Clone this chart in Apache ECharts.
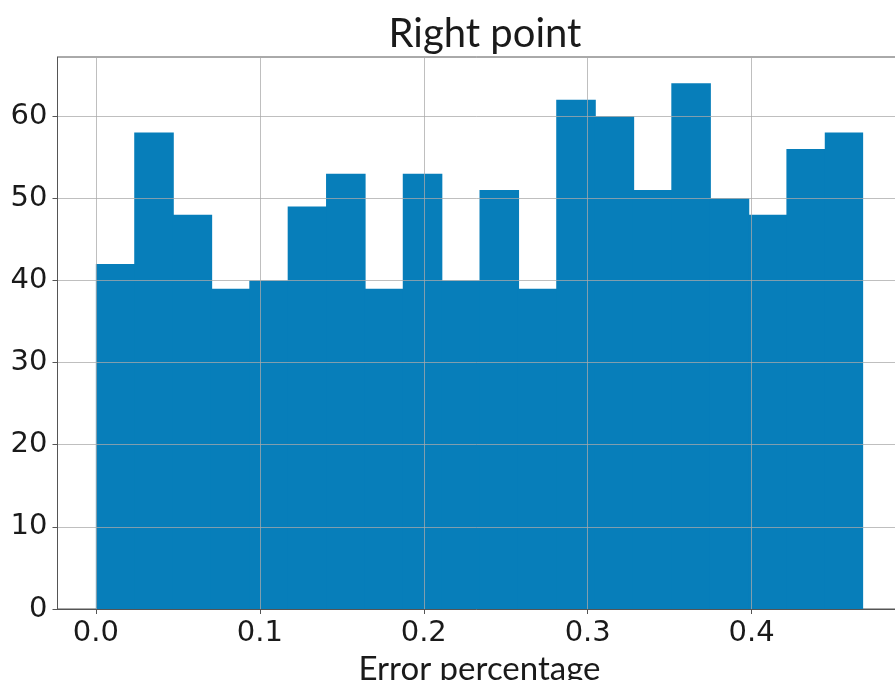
<!DOCTYPE html>
<html>
<head>
<meta charset="utf-8">
<script src="https://cdn.jsdelivr.net/npm/echarts@6/dist/echarts.min.js"></script>
<style>html,body{margin:0;padding:0;background:#fff}#c{width:895px;height:680px}</style>
</head>
<body>
<div id="c"></div>
<script>
const binStart = 0.0;
const binWidth = 0.0234;
const counts = [42, 58, 48, 39, 40, 49, 53, 39, 53, 40, 51, 39, 62, 60, 51, 64, 50, 48, 56, 58];
const xTicks = [0.0, 0.1, 0.2, 0.3, 0.4];
const yTicks = [0, 10, 20, 30, 40, 50, 60];
const titleText = 'Right point';
const xName = 'Error percentage';

const bins = counts.map((c, i) => [binStart + i * binWidth, binStart + (i + 1) * binWidth, c]);
const xEnd = binStart + counts.length * binWidth;
const xMargin = (xEnd - binStart) * 0.05;
const yMax = Math.max(...counts) * 1.05;

const chart = echarts.init(document.getElementById('c'), null, {renderer: 'canvas'});
const gridColor = 'rgba(170,170,170,0.75)';
const fontTitle = 'Lato, "Open Sans", sans-serif';
const fontTick = '"DejaVu Sans", sans-serif';
chart.setOption({
  animation: false,
  backgroundColor: '#fff',
  title: {
    text: titleText, left: 480, top: 9, textAlign: 'center',
    textStyle: {fontFamily: fontTitle, fontSize: 40, fontWeight: 'normal', color: '#1a1a1a'}
  },
  grid: {left: 57.5, top: 57, width: 844, height: 552, outerBoundsMode: 'none', containLabel: false,
    show: true, borderColor: '#555', borderWidth: 1, backgroundColor: 'transparent'},
  xAxis: {
    type: 'value', min: binStart - xMargin, max: xEnd + xMargin, z: 5,
    name: xName, nameLocation: 'middle', nameGap: 38,
    nameTextStyle: {fontFamily: fontTitle, fontSize: 33, color: '#1a1a1a'},
    axisLine: {show: true, onZero: false, lineStyle: {color: '#555', width: 1}},
    axisTick: {show: true, customValues: xTicks, length: 5, lineStyle: {color: '#555'}},
    axisLabel: {customValues: xTicks, margin: 10, fontFamily: fontTick, fontSize: 29, color: '#1a1a1a',
      formatter: v => v.toFixed(1)},
    splitLine: {show: true, lineStyle: {color: gridColor, width: 1}}
  },
  yAxis: {
    type: 'value', min: 0, max: yMax, z: 5,
    axisLine: {show: true, onZero: false, lineStyle: {color: '#555', width: 1}},
    axisTick: {show: true, customValues: yTicks, length: 5, lineStyle: {color: '#555'}},
    axisLabel: {customValues: yTicks, margin: 10, fontFamily: fontTick, fontSize: 29, color: '#1a1a1a'},
    splitLine: {show: true, lineStyle: {color: gridColor, width: 1}}
  },
  series: [{
    type: 'custom',
    z: 2,
    data: bins,
    encode: {x: [0, 1], y: 2},
    renderItem: function (params, api) {
      const p0 = api.coord([api.value(0), api.value(2)]);
      const p1 = api.coord([api.value(1), 0]);
      const last = params.dataIndex === counts.length - 1;
      return {
        type: 'rect',
        shape: {x: p0[0], y: p0[1], width: p1[0] - p0[0] + (last ? 0 : 1.2), height: p1[1] - p0[1]},
        style: {fill: '#077EBA'}
      };
    }
  }]
});
</script>
</body>
</html>
